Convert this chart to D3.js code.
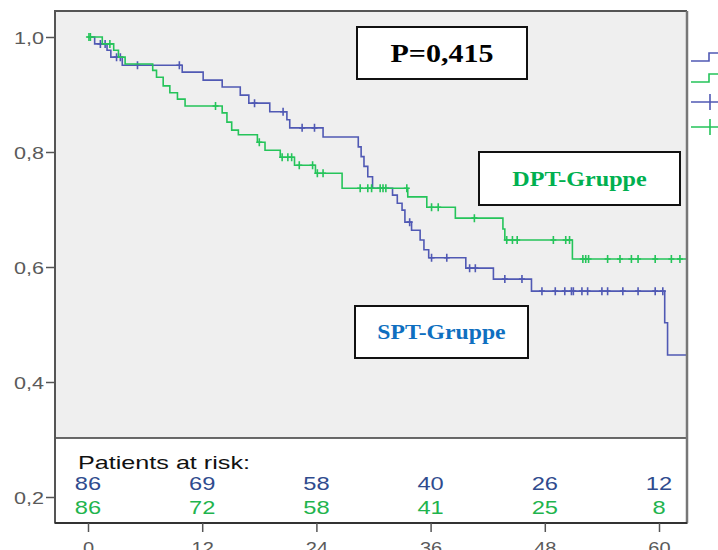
<!DOCTYPE html>
<html>
<head>
<meta charset="utf-8">
<script src="https://cdn.jsdelivr.net/npm/d3@7"></script>
<style>
  html, body { margin: 0; padding: 0; background: #fff; }
  svg { display: block; }
</style>
</head>
<body>
<svg id="chart" width="718" height="550"></svg>
<script>
// ---- data ---------------------------------------------------------------
const timeTicks = [0, 12, 24, 36, 48, 60];
const survivalTicks = [0.2, 0.4, 0.6, 0.8, 1.0];
const groupNames = ["SPT-Gruppe", "DPT-Gruppe"];
const pValueLabel = "P=0,415";
const riskTitle = "Patients at risk:";
const riskSPT = [86, 69, 58, 40, 26, 12];
const riskDPT = [86, 72, 58, 41, 25, 8];
const followUpEnd = 63;

// SPT group: event times (months) and survival after each event
const sptEventTimes = [0.7, 2.0, 2.4, 3.6, 9.9, 12.1, 14.1, 16.0, 16.9, 19.1, 20.9, 21.2, 24.7,
  28.4, 28.7, 29.0, 29.4, 29.9, 32.0, 32.5, 33.0, 33.3, 34.0, 34.9, 35.3, 35.8,
  39.7, 42.6, 46.6, 60.6, 60.9];
const sptSurvival = [0.988, 0.977, 0.965, 0.951, 0.939, 0.925, 0.913, 0.899, 0.885, 0.870, 0.856, 0.842, 0.826,
  0.809, 0.792, 0.775, 0.757, 0.737, 0.725, 0.711, 0.699, 0.678, 0.664, 0.647, 0.630, 0.616,
  0.598, 0.579, 0.558, 0.503, 0.447];
const sptCensored = [1.3, 1.8, 3.0, 3.4, 5.2, 9.6, 17.5, 20.5, 22.5, 23.8, 33.8, 36.1, 37.7,
  40.1, 40.7, 43.8, 45.6, 47.7, 49.1, 50.1, 50.8, 51.0, 51.9, 52.5, 54.0, 54.6, 56.2, 57.8, 59.6, 60.4];

// DPT group
const dptEventTimes = [1.5, 2.7, 3.2, 3.9, 6.8, 7.2, 7.9, 8.6, 9.4, 10.2, 14.1, 14.6, 15.1, 15.8,
  17.8, 18.6, 20.2, 21.7, 23.9, 26.7, 33.6, 35.6, 38.6, 43.6, 43.8, 50.9];
const dptSurvival = [0.988, 0.977, 0.965, 0.953, 0.942, 0.930, 0.915, 0.903, 0.892, 0.880, 0.868, 0.852, 0.838, 0.830,
  0.817, 0.803, 0.791, 0.777, 0.763, 0.737, 0.722, 0.704, 0.685, 0.666, 0.647, 0.614];
const dptCensored = [0.1, 0.25, 2.3, 13.4, 18.0, 20.4, 21.0, 21.4, 22.2, 23.6, 24.1, 24.7,
  28.6, 29.4, 29.8, 30.7, 31.0, 31.3, 33.5, 36.1, 36.8, 40.6, 44.0, 44.6, 45.1, 48.9, 50.2, 50.6,
  52.0, 52.3, 52.6, 54.6, 55.9, 57.1, 57.8, 59.6, 61.3, 62.2];

// ---- layout -------------------------------------------------------------
const frame = { left: 55, right: 687, top: 11, tableTop: 438, bottom: 523 };
const colors = {
  spt: "#5059b4", dpt: "#25c45a",
  sptText: "#2f4b8e", dptText: "#1fb44e",
  sptLabel: "#0f6fc0", dptLabel: "#00b050",
  axis: "#555555", tickText: "#5a5a5a", plotBg: "#efefef"
};
const sansFont = "'Liberation Sans', Arial, sans-serif";
const serifFont = "'Liberation Serif', 'Times New Roman', serif";

const svg = d3.select("#chart");
const x = d3.scaleLinear().domain([0, 60]).range([88, 659]);
const y = d3.scaleLinear().domain([0.2, 1.0]).range([497, 37]);

// horizontally widened text
function wideText(g, str, px, py, sx, opts) {
  const t = g.append("text")
    .attr("transform", `translate(${px},${py}) scale(${sx},1)`)
    .attr("font-family", opts.font || sansFont)
    .attr("font-size", opts.size)
    .attr("font-weight", opts.weight || "normal")
    .attr("text-anchor", opts.anchor || "start")
    .attr("fill", opts.fill || "#000")
    .text(str);
  return t;
}

// plot background
svg.append("rect")
  .attr("x", frame.left).attr("y", frame.top)
  .attr("width", frame.right - frame.left).attr("height", frame.bottom - frame.top)
  .attr("fill", colors.plotBg);

// clip for curves
svg.append("clipPath").attr("id", "plotClip")
  .append("rect")
  .attr("x", frame.left).attr("y", frame.top)
  .attr("width", frame.right - frame.left - 1).attr("height", frame.tableTop - frame.top);

function stepPoints(times, surv) {
  const pts = [[0, 1]];
  times.forEach((t, i) => pts.push([t, surv[i]]));
  pts.push([followUpEnd, surv[surv.length - 1]]);
  return pts;
}
function survivalAt(times, surv, t) {
  const i = d3.bisectRight(times, t);
  return i === 0 ? 1 : surv[i - 1];
}

const line = d3.line().x(d => x(d[0])).y(d => y(d[1])).curve(d3.curveStepAfter);
const curves = svg.append("g").attr("clip-path", "url(#plotClip)");

const groups = [
  { name: groupNames[0], times: sptEventTimes, surv: sptSurvival, cens: sptCensored, color: colors.spt },
  { name: groupNames[1], times: dptEventTimes, surv: dptSurvival, cens: dptCensored, color: colors.dpt }
];

const plusHalf = 4;
groups.forEach(g => {
  curves.append("path")
    .datum(stepPoints(g.times, g.surv))
    .attr("d", line)
    .attr("fill", "none")
    .attr("stroke", g.color)
    .attr("stroke-width", 1.6);
  curves.append("g").selectAll("path")
    .data(g.cens)
    .join("path")
    .attr("d", t => {
      const cx = x(t), cy = y(survivalAt(g.times, g.surv, t));
      return `M${cx - plusHalf + 1},${cy}H${cx + plusHalf - 1}M${cx},${cy - plusHalf}V${cy + plusHalf}`;
    })
    .attr("stroke", g.color)
    .attr("stroke-width", 1.6)
    .attr("fill", "none");
});

// number-at-risk table
svg.append("rect")
  .attr("x", frame.left).attr("y", frame.tableTop)
  .attr("width", frame.right - frame.left).attr("height", frame.bottom - frame.tableTop)
  .attr("fill", "#fff")
  .attr("stroke", "#3a3a3a").attr("stroke-width", 1.5);

wideText(svg, riskTitle, 78, 469, 1.36, { size: 18.5, fill: "#111" });
const riskRows = [
  { values: riskSPT, fill: colors.sptText, yPos: 490 },
  { values: riskDPT, fill: colors.dptText, yPos: 514 }
];
riskRows.forEach(r => {
  r.values.forEach((v, i) => {
    wideText(svg, v, x(timeTicks[i]), r.yPos, 1.28, { size: 18.5, anchor: "middle", fill: r.fill });
  });
});

// frame
const frameG = svg.append("g").attr("fill", "none").attr("stroke", colors.axis).attr("stroke-width", 2);
frameG.append("path").attr("d", `M${frame.left},${frame.bottom}V${frame.top}H${frame.right}`);
frameG.append("path").attr("d", `M${frame.right},${frame.top}V${frame.bottom}`).attr("stroke", "#777").attr("stroke-width", 2.5);
frameG.append("path").attr("d", `M${frame.left},${frame.bottom}H${frame.right}`).attr("stroke", "#333");

// y axis
const yAxis = svg.append("g")
  .attr("transform", `translate(${frame.left},0)`)
  .call(d3.axisLeft(y).tickValues(survivalTicks).tickSize(9)
    .tickFormat(d => d3.format(".1f")(d).replace(".", ",")));
yAxis.select(".domain").remove();
yAxis.selectAll(".tick line").attr("stroke", colors.axis).attr("stroke-width", 1.5);
yAxis.selectAll(".tick text")
  .attr("x", null).attr("dy", null)
  .attr("transform", "translate(-11,6) scale(1.27,1)")
  .attr("font-family", sansFont).attr("font-size", 17)
  .attr("fill", colors.tickText);

// x axis
const xAxis = svg.append("g")
  .attr("transform", `translate(0,${frame.bottom})`)
  .call(d3.axisBottom(x).tickValues(timeTicks).tickSize(9).tickPadding(9));
xAxis.select(".domain").remove();
xAxis.selectAll(".tick line").attr("stroke", colors.axis).attr("stroke-width", 1.5);
xAxis.selectAll(".tick text")
  .attr("y", null).attr("dy", null)
  .attr("transform", "translate(0,31) scale(1.25,1)")
  .attr("font-family", sansFont).attr("font-size", 16)
  .attr("fill", colors.tickText);

// labelled boxes
function labelBox(bx, by, bw, bh, str, fill, size, sx) {
  svg.append("rect")
    .attr("x", bx).attr("y", by).attr("width", bw).attr("height", bh)
    .attr("fill", "#fff").attr("stroke", "#111").attr("stroke-width", 2);
  wideText(svg, str, bx + bw / 2, by + bh / 2 + size * 0.34, sx,
    { font: serifFont, size: size, weight: "bold", anchor: "middle", fill: fill });
}
labelBox(357, 27, 170, 52, pValueLabel, "#000", 25, 1.2);
labelBox(479, 152, 201, 53, groupNames[1], colors.dptLabel, 21, 1.15);
labelBox(355, 306, 173, 52, groupNames[0], colors.sptLabel, 21, 1.13);

// legend symbols beyond the right frame edge
const legend = svg.append("g").attr("fill", "none").attr("stroke-width", 1.6);
const legendItems = [
  { color: colors.spt, yPos: 61, censored: false },
  { color: colors.dpt, yPos: 82, censored: false },
  { color: colors.spt, yPos: 102, censored: true },
  { color: colors.dpt, yPos: 127, censored: true }
];
legendItems.forEach(it => {
  if (!it.censored) {
    legend.append("path").attr("stroke", it.color)
      .attr("d", `M691,${it.yPos}H709V${it.yPos - 8}H720`);
  } else {
    legend.append("path").attr("stroke", it.color)
      .attr("d", `M691,${it.yPos}H720M710,${it.yPos - 8}V${it.yPos + 8}M706,${it.yPos}H714`);
  }
});
</script>
</body>
</html>
